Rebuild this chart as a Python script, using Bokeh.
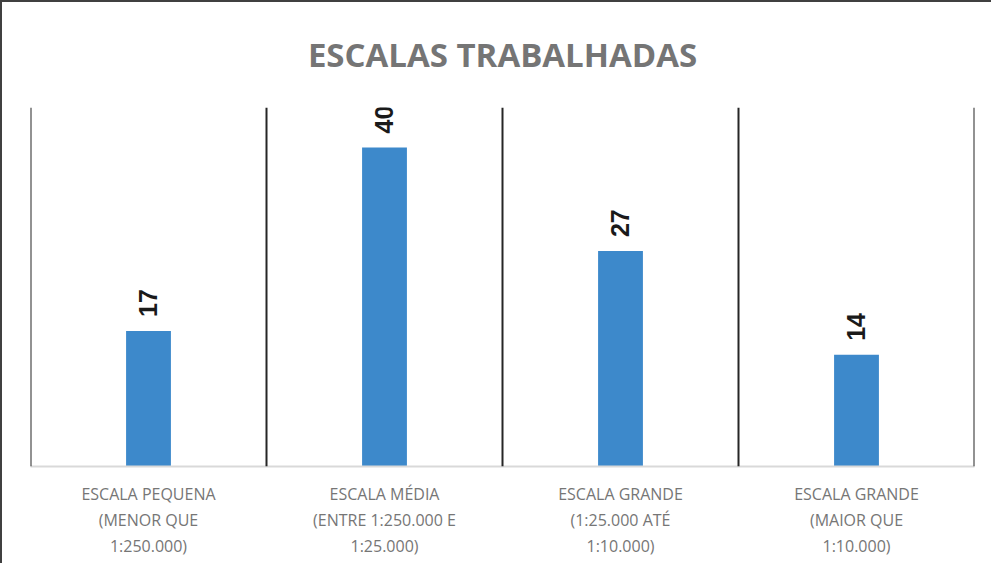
import math
from bokeh.plotting import figure
from bokeh.models import ColumnDataSource, LabelSet, Span, Title, FactorRange
from bokeh.core.properties import value
from bokeh.embed import file_html
from bokeh.resources import INLINE

categories = [
    "ESCALA PEQUENA\n(MENOR QUE\n1:250.000)",
    "ESCALA MÉDIA\n(ENTRE 1:250.000 E\n1:25.000)",
    "ESCALA GRANDE\n(1:25.000 ATÉ\n1:10.000)",
    "ESCALA GRANDE\n(MAIOR QUE\n1:10.000)",
]
values = [17, 40, 27, 14]
title_text = "ESCALAS TRABALHADAS"

src = ColumnDataSource(dict(cat=categories, val=values, lab=[str(v) for v in values]))

p = figure(
    x_range=FactorRange(*categories, range_padding=0),
    y_range=(0, 45),
    width=991, height=563,
    output_backend="svg", toolbar_location=None,
    min_border_left=28, min_border_right=19, min_border_top=104, min_border_bottom=99,
)
p.styles = {"border-left": "2px solid #404040", "border-top": "2px solid #404040"}

p.vbar(x="cat", top="val", width=0.19, source=src, color="#3d89cb", line_color=None)

labels = LabelSet(x="cat", y="val", text="lab", source=src, angle=math.pi / 2,
                  text_align="left", text_baseline="middle", y_offset=14,
                  text_font=value("Liberation Sans"), text_font_style="bold",
                  text_font_size="25px", text_color="#1a1a1a")
p.add_layout(labels)

for i in range(len(categories) + 1):
    p.add_layout(Span(location=i, dimension="height", line_color="#262626", line_width=2))

t = Title(text=title_text, align="center", vertical_align="top",
          text_font="Open Sans", text_font_style="bold",
          text_font_size="33px", text_color="#757575", standoff=58)
p.add_layout(t, "above")

p.yaxis.visible = False
p.ygrid.visible = False
p.xgrid.visible = False
p.outline_line_color = None
p.xaxis.axis_line_color = "#d9d9d9"
p.xaxis.axis_line_width = 2
p.xaxis.major_tick_line_color = None
p.xaxis.minor_tick_line_color = None
p.xaxis.major_label_text_font = "Open Sans"
p.xaxis.major_label_text_font_size = "16px"
p.xaxis.major_label_text_color = "#767676"
p.xaxis.major_label_standoff = 10

open("out.html", "w").write(file_html(p, INLINE))
